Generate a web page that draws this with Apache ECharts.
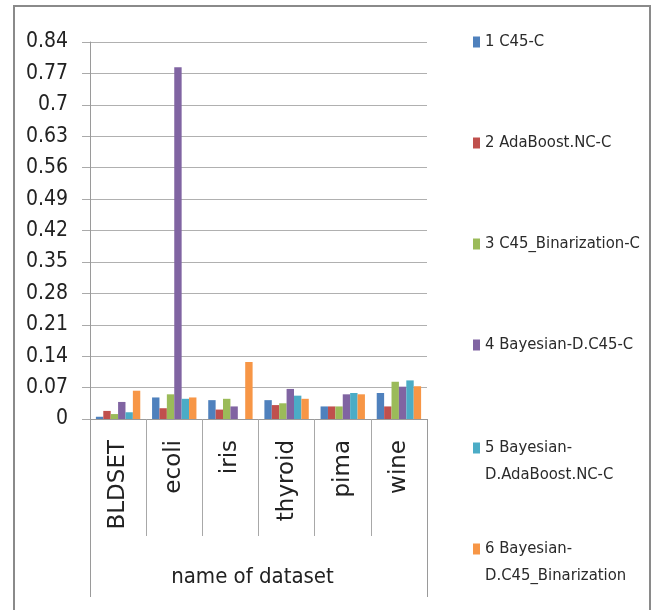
<!DOCTYPE html>
<html>
<head>
<meta charset="utf-8">
<script src="https://cdn.jsdelivr.net/npm/echarts@6/dist/echarts.min.js"></script>
<style>
html,body{margin:0;padding:0;background:#fff;}
#chart{width:654px;height:610px;}
</style>
</head>
<body>
<div id="chart"></div>
<script>
const categories = ['BLDSET', 'ecoli', 'iris', 'thyroid', 'pima', 'wine'];
const seriesNames = ['1 C45-C', '2 AdaBoost.NC-C', '3 C45_Binarization-C', '4 Bayesian-D.C45-C', '5 Bayesian-\nD.AdaBoost.NC-C', '6 Bayesian-\nD.C45_Binarization'];
const c45 = [0.005, 0.048, 0.042, 0.042, 0.028, 0.058];
const adaBoost = [0.018, 0.024, 0.021, 0.031, 0.028, 0.028];
const c45Bin = [0.011, 0.055, 0.045, 0.035, 0.028, 0.083];
const bayesC45 = [0.038, 0.784, 0.028, 0.067, 0.055, 0.072];
const bayesAda = [0.015, 0.045, 0, 0.052, 0.058, 0.086];
const bayesC45Bin = [0.063, 0.048, 0.127, 0.045, 0.055, 0.073];
const yTicks = [0, 0.07, 0.14, 0.21, 0.28, 0.35, 0.42, 0.49, 0.56, 0.63, 0.7, 0.77, 0.84];
const axisTitle = 'name of dataset';

const seriesData = [c45, adaBoost, c45Bin, bayesC45, bayesAda, bayesC45Bin];
const colors = ['#4F81BD', '#C0504D', '#9BBB59', '#8064A2', '#4BACC6', '#F79646'];
const FONT = '"DejaVu Sans Condensed", "Liberation Sans", sans-serif';
const LH = 27;
const legendCenters = [42, 143, 244, 345, 448, 549];

const chart = echarts.init(document.getElementById('chart'), null, {renderer: 'canvas'});

const legends = seriesNames.map((name, i) => {
  const twoLine = name.indexOf('\n') >= 0;
  const top = twoLine ? legendCenters[i] - 1.5 * LH : legendCenters[i] - LH / 2;
  return {
    show: true,
    orient: 'vertical',
    left: 473,
    top: top,
    padding: 0,
    itemWidth: 7,
    itemHeight: 11,
    icon: 'rect',
    data: [name],
    selectedMode: false,
    formatter: n => (n.indexOf('\n') >= 0 ? '\u00a0\n' + n : n),
    textStyle: {
      fontFamily: FONT,
      fontSize: 16.5,
      color: '#2a2a2a',
      lineHeight: LH
    }
  };
});

chart.setOption({
  animation: false,
  color: colors,
  graphic: [{
    type: 'rect',
    shape: {x: 14, y: 6, width: 636, height: 640},
    style: {fill: 'none', stroke: '#8a8a8a', lineWidth: 2},
    silent: true
  }],
  legend: legends,
  grid: {left: 90, right: 227, top: 42, bottom: 191, containLabel: false},
  xAxis: [{
    type: 'category',
    data: categories,
    position: 'bottom',
    axisLine: {show: true, lineStyle: {color: '#9a9a9a', width: 1}},
    axisTick: {show: true, interval: 0, alignWithLabel: false, length: 117, lineStyle: {color: '#a8a8a8', width: 1}},
    axisLabel: {
      interval: 0,
      rotate: 90,
      margin: 21,
      fontFamily: '"DejaVu Sans", sans-serif',
      fontSize: 23,
      color: '#222'
    },
    splitLine: {show: false}
  }, {
    type: 'category',
    data: [axisTitle],
    position: 'bottom',
    offset: 0,
    axisLine: {show: false},
    axisTick: {show: true, interval: 0, length: 178, lineStyle: {color: '#9a9a9a', width: 1}},
    axisLabel: {
      margin: 147,
      fontFamily: FONT,
      fontSize: 22,
      color: '#222',
      padding: [0, 12, 0, 0]
    },
    splitLine: {show: false}
  }],
  yAxis: {
    type: 'value',
    min: 0,
    max: 0.84,
    interval: 0.07,
    axisLine: {show: true, lineStyle: {color: '#9a9a9a', width: 1}},
    axisTick: {show: true, length: 8, lineStyle: {color: '#aaaaaa'}},
    axisLabel: {
      margin: 22,
      fontFamily: FONT,
      fontSize: 21,
      color: '#222',
      padding: [3, 0, 0, 0],
      formatter: v => {
        const t = yTicks.find(x => Math.abs(x - v) < 1e-6);
        return String(t !== undefined ? t : +v.toFixed(2));
      }
    },
    splitLine: {show: true, lineStyle: {color: '#b0b0b0', width: 1}}
  },
  series: seriesNames.map((name, i) => ({
    name: name,
    type: 'bar',
    xAxisIndex: 0,
    data: seriesData[i],
    barGap: '0%',
    barCategoryGap: '21%',
    itemStyle: {color: colors[i]}
  }))
});
</script>
</body>
</html>
